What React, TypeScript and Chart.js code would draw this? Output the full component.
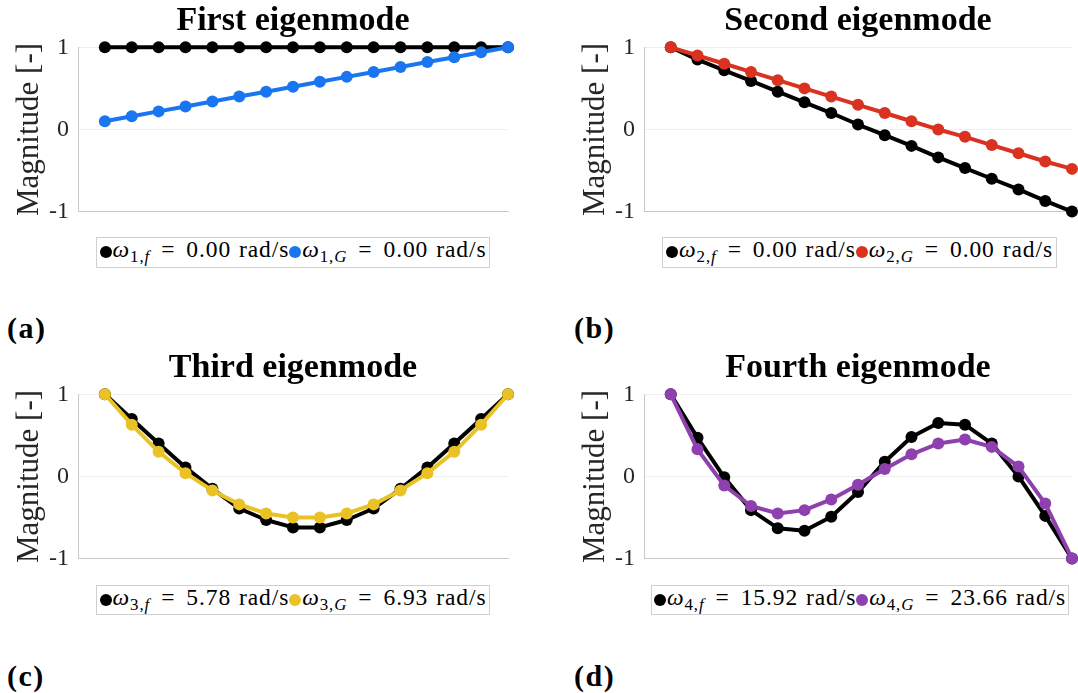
import React, { useEffect, useRef } from "react";
import { Chart, registerables } from "chart.js";

Chart.register(...registerables);

// ---- data ----
const nodes = [1, 2, 3, 4, 5, 6, 7, 8, 9, 10, 11, 12, 13, 14, 15, 16];

const mode1F = [1, 1, 1, 1, 1, 1, 1, 1, 1, 1, 1, 1, 1, 1, 1, 1];
const mode1G = [0.1, 0.16, 0.22, 0.28, 0.34, 0.4, 0.46, 0.52, 0.58, 0.64, 0.7, 0.76, 0.82, 0.88, 0.94, 1.0];

const mode2F = [1.0, 0.85, 0.72, 0.59, 0.46, 0.33, 0.2, 0.06, -0.07, -0.2, -0.34, -0.47, -0.6, -0.73, -0.87, -1.0];
const mode2G = [1.0, 0.9, 0.8, 0.7, 0.6, 0.5, 0.4, 0.3, 0.2, 0.1, 0.0, -0.09, -0.19, -0.29, -0.39, -0.48];

const mode3F = [1.0, 0.7, 0.4, 0.11, -0.15, -0.39, -0.53, -0.62, -0.62, -0.53, -0.39, -0.15, 0.11, 0.4, 0.7, 1.0];
const mode3G = [1.0, 0.63, 0.3, 0.04, -0.17, -0.34, -0.45, -0.5, -0.5, -0.45, -0.34, -0.17, 0.04, 0.3, 0.63, 1.0];

const mode4F = [1.0, 0.47, -0.01, -0.41, -0.63, -0.66, -0.49, -0.19, 0.18, 0.48, 0.65, 0.63, 0.4, 0.0, -0.48, -1.0];
const mode4G = [1.0, 0.33, -0.11, -0.36, -0.45, -0.41, -0.28, -0.1, 0.09, 0.27, 0.4, 0.45, 0.36, 0.12, -0.33, -1.0];

const titles = ["First eigenmode", "Second eigenmode", "Third eigenmode", "Fourth eigenmode"];
const panelLabels = ["(a)", "(b)", "(c)", "(d)"];
const freqF = [0.0, 0.0, 5.78, 15.92];
const freqG = [0.0, 0.0, 6.93, 23.66];
const yTicks = [-1, 0, 1];
const yLabel = "Magnitude [-]";

const seriesF = [mode1F, mode2F, mode3F, mode4F];
const seriesG = [mode1G, mode2G, mode3G, mode4G];
const colorsG = ["#1a75f0", "#da3220", "#ebc225", "#8e40ae"];

// ---- layout ----
const FONT = '"Liberation Serif", "Times New Roman", serif';
const panels = [
  { left: 0, top: 0, width: 540, height: 235, padR: 32 },
  { left: 566, top: 0, width: 512, height: 235, padR: 3.5 },
  { left: 0, top: 347, width: 540, height: 235, padR: 32 },
  { left: 566, top: 347, width: 512, height: 235, padR: 3.5 },
];
const legends = [
  { left: 96, top: 237, width: 394, height: 31 },
  { left: 662, top: 237, width: 395, height: 31 },
  { left: 96, top: 585, width: 394, height: 30 },
  { left: 651, top: 585, width: 418, height: 30 },
];
const labelPos = [
  { left: 7, top: 313 },
  { left: 574, top: 313 },
  { left: 7, top: 661 },
  { left: 574, top: 661 },
];

function Panel({ idx }: { idx: number }) {
  const ref = useRef<HTMLCanvasElement | null>(null);
  const p = panels[idx];
  useEffect(() => {
    if (!ref.current) return;
    const mk = (vals: number[]) => nodes.map((x, i) => ({ x, y: vals[i] }));
    const common = {
      borderWidth: 4,
      pointRadius: 6,
      pointBorderWidth: 0,
      tension: 0,
      clip: false as any,
      borderJoinStyle: "round" as const,
      borderCapStyle: "round" as const,
    };
    const chart = new Chart(ref.current, {
      type: "line",
      data: {
        datasets: [
          {
            ...common,
            label: "G",
            data: mk(seriesG[idx]),
            borderColor: colorsG[idx],
            backgroundColor: colorsG[idx],
            pointBackgroundColor: colorsG[idx],
            order: 0,
          },
          {
            ...common,
            label: "f",
            data: mk(seriesF[idx]),
            borderColor: "#000000",
            backgroundColor: "#000000",
            pointBackgroundColor: "#000000",
            order: 1,
          },
        ],
      },
      options: {
        animation: false,
        responsive: false,
        events: [],
        layout: { padding: { left: 0, right: p.padR, top: 0, bottom: 16.7 } },
        plugins: {
          legend: { display: false },
          tooltip: { enabled: false },
          title: {
            display: true,
            text: titles[idx],
            fullSize: false,
            color: "#000000",
            font: { family: FONT, size: 34, weight: "bold", lineHeight: 1.2 },
            padding: { top: 1.3, bottom: 5.2 },
          },
        },
        scales: {
          x: {
            type: "linear",
            min: 0,
            max: 16,
            ticks: { display: false },
            grid: { display: false },
            border: { display: true, color: "#c8c8c8", width: 1 },
            afterFit: (s: any) => {
              s.height = 0;
            },
          },
          y: {
            type: "linear",
            min: -1,
            max: 1,
            afterBuildTicks: (s: any) => {
              s.ticks = yTicks.map((v) => ({ value: v }));
            },
            ticks: {
              padding: 9,
              color: "#262626",
              font: { family: FONT, size: 24 },
              callback: (v: any) => String(v),
            },
            grid: { color: "#eeeeee", drawTicks: false },
            border: { display: true, color: "#c8c8c8", width: 1 },
            title: {
              display: true,
              text: yLabel,
              color: "#262626",
              font: { family: FONT, size: 31 },
              padding: { top: 11, bottom: 0 },
            },
            afterFit: (s: any) => {
              s.width = 78;
            },
          },
        },
      },
    });
    return () => chart.destroy();
  }, [idx]);
  return (
    <canvas
      ref={ref}
      width={p.width}
      height={p.height}
      style={{ position: "absolute", left: p.left, top: p.top, width: p.width, height: p.height }}
    />
  );
}

function Dot({ color }: { color: string }) {
  return (
    <span
      style={{
        display: "inline-block",
        width: 12,
        height: 12,
        borderRadius: "50%",
        background: color,
        marginRight: 1,
      }}
    />
  );
}

function Entry({ mode, tag, value, color }: { mode: number; tag: string; value: number; color: string }) {
  return (
    <span style={{ display: "inline-flex", alignItems: "center" }}>
      <Dot color={color} />
      <span>
        <i>ω</i>
        <sub style={{ fontSize: "72%", verticalAlign: "-0.32em" }}>
          {mode},<i>{tag}</i>
        </sub>
        <span style={{ margin: "0 11px" }}>=</span>
        {value.toFixed(2)}
        <span style={{ marginLeft: 8 }}>rad/s</span>
      </span>
    </span>
  );
}

function Legend({ idx }: { idx: number }) {
  const l = legends[idx];
  return (
    <div
      style={{
        position: "absolute",
        left: l.left,
        top: l.top,
        width: l.width,
        height: l.height,
        boxSizing: "border-box",
        border: "1px solid #d0d0d0",
        background: "#ffffff",
        display: "flex",
        alignItems: "center",
        justifyContent: "center",
        fontFamily: FONT,
        fontSize: 23.5,
        color: "#000000",
        whiteSpace: "nowrap",
        lineHeight: 1,
        letterSpacing: 0.9,
      }}
    >
      <Entry mode={idx + 1} tag="f" value={freqF[idx]} color="#000000" />
      <Entry mode={idx + 1} tag="G" value={freqG[idx]} color={colorsG[idx]} />
    </div>
  );
}

export default function App() {
  return (
    <div
      style={{
        position: "absolute",
        left: 0,
        top: 0,
        width: 1078,
        height: 693,
        overflow: "hidden",
        background: "#ffffff",
      }}
    >
      {[0, 1, 2, 3].map((i) => (
        <Panel key={"p" + i} idx={i} />
      ))}
      {[0, 1, 2, 3].map((i) => (
        <Legend key={"l" + i} idx={i} />
      ))}
      {[0, 1, 2, 3].map((i) => (
        <div
          key={"t" + i}
          style={{
            position: "absolute",
            left: labelPos[i].left,
            top: labelPos[i].top,
            fontFamily: FONT,
            fontWeight: "bold",
            fontSize: 30,
            lineHeight: "30px",
            letterSpacing: 1.5,
            color: "#000000",
          }}
        >
          {panelLabels[i]}
        </div>
      ))}
    </div>
  );
}
